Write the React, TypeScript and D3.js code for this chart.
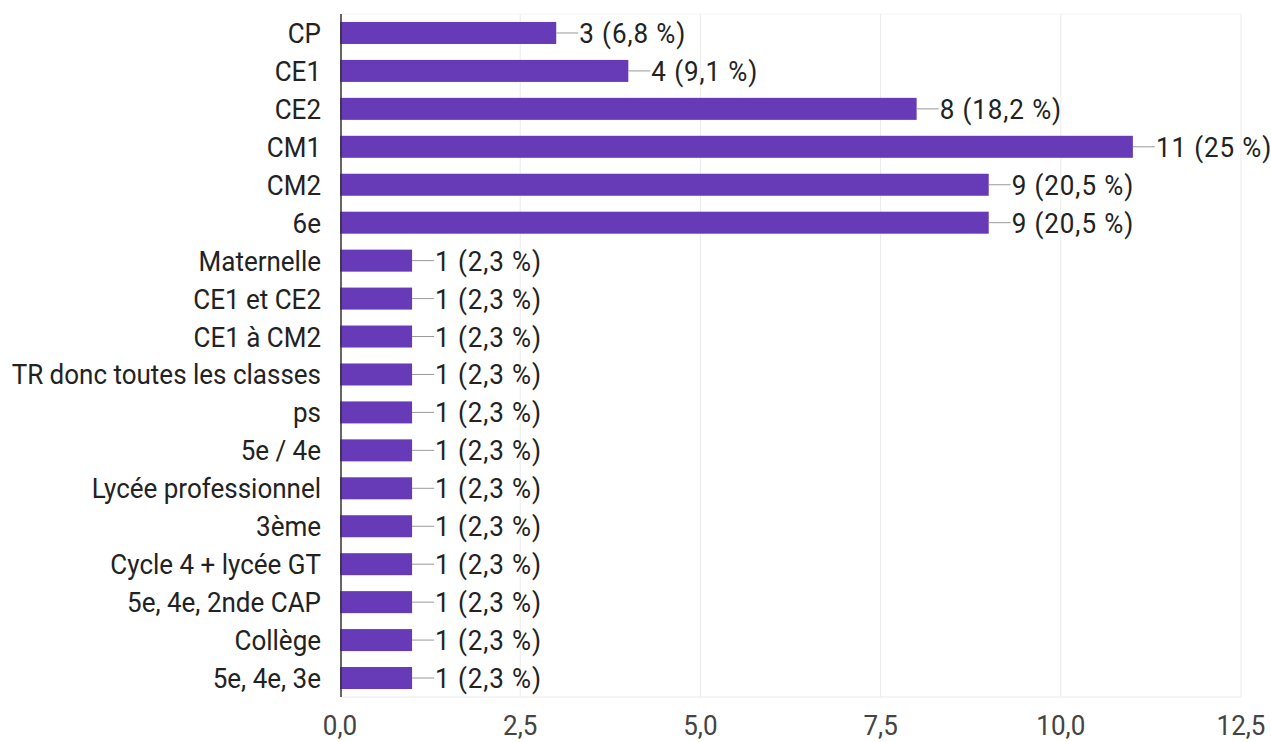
import * as d3 from "d3";
import React from "react";

const categories = [
  "CP", "CE1", "CE2", "CM1", "CM2", "6e", "Maternelle", "CE1 et CE2",
  "CE1 à CM2", "TR donc toutes les classes", "ps", "5e / 4e",
  "Lycée professionnel", "3ème", "Cycle 4 + lycée GT", "5e, 4e, 2nde CAP",
  "Collège", "5e, 4e, 3e",
];
const counts = [3, 4, 8, 11, 9, 9, 1, 1, 1, 1, 1, 1, 1, 1, 1, 1, 1, 1];
const percents = ["6,8", "9,1", "18,2", "25", "20,5", "20,5", "2,3", "2,3", "2,3",
  "2,3", "2,3", "2,3", "2,3", "2,3", "2,3", "2,3", "2,3", "2,3"];
const xTicks = [0, 2.5, 5, 7.5, 10, 12.5];

const W = 1271, H = 742;
const plot = { left: 340, right: 1241, top: 14, bottom: 697 };
const font = "Roboto, Arial, sans-serif";
const FS = 26;
const SY = 1.07; // text in the picture is slightly stretched vertically

// text placed at (x, y) with baseline stretch
const T = ({ x, y, anchor = "start", fill = "#222", spacing = 0, children }: any) => (
  <text transform={`translate(${x},${y}) scale(1,${SY})`} fontSize={FS} fill={fill}
    textAnchor={anchor} letterSpacing={spacing}>{children}</text>
);

export default function App() {
  const x = d3.scaleLinear().domain([0, 12.5]).range([plot.left, plot.right]);
  const y = d3.scaleBand<string>().domain(categories)
    .range([plot.top, plot.bottom]).paddingInner(0.42).paddingOuter(0.21);
  const fmt = (v: number) => d3.format(".1f")(v).replace(".", ",");
  const bh = y.bandwidth();

  return (
    <svg width={W} height={H} style={{ position: "absolute", left: 0, top: 0, background: "#fff" }}
      fontFamily={font}>
      {/* grid */}
      {xTicks.slice(1).map(t => (
        <line key={t} x1={x(t)} x2={x(t)} y1={plot.top} y2={plot.bottom}
          stroke="#ebebeb" strokeWidth={1} />
      ))}
      <line x1={plot.left} x2={plot.right} y1={plot.top} y2={plot.top} stroke="#f4f4f4" />
      <line x1={plot.left} x2={plot.right} y1={plot.bottom} y2={plot.bottom} stroke="#ebebeb" />

      {/* bars */}
      {categories.map((c, i) => {
        const yy = y(c)!;
        const cy = yy + bh / 2;
        const end = x(counts[i]);
        return (
          <g key={c}>
            <rect x={x(0)} y={yy} width={end - x(0)} height={bh} fill="#673ab7" />
            <line x1={end} x2={end + 22} y1={cy} y2={cy} stroke="#999" strokeWidth={1} />
            <T x={end + 23} y={cy + 10} spacing={0.9}>{`${counts[i]} (${percents[i]} %)`}</T>
            <T x={321} y={cy + 10} anchor="end">{c}</T>
          </g>
        );
      })}

      {/* axis line */}
      <line x1={x(0) + 1} x2={x(0) + 1} y1={plot.top} y2={plot.bottom} stroke="#333" strokeWidth={1.5} />

      {/* tick labels */}
      {xTicks.map(t => (
        <T key={t} x={x(t)} y={735} anchor="middle" fill="#444">{fmt(t)}</T>
      ))}
    </svg>
  );
}
